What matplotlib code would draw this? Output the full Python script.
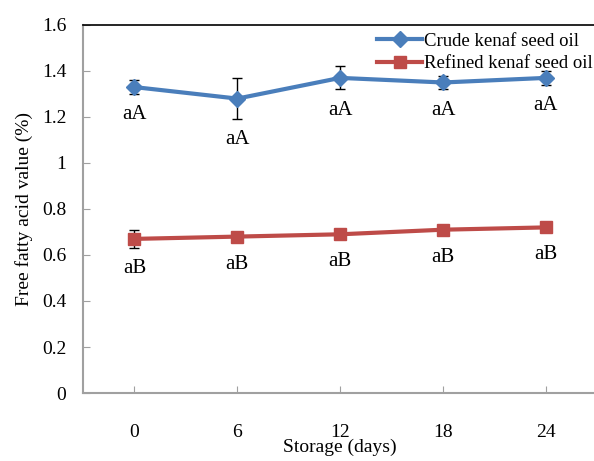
import matplotlib
matplotlib.use("Agg")
import matplotlib.pyplot as plt

days = ["0", "6", "12", "18", "24"]
crude = [1.33, 1.28, 1.37, 1.35, 1.37]
crude_err = [0.03, 0.09, 0.05, 0.03, 0.03]
refined = [0.67, 0.68, 0.69, 0.71, 0.72]
refined_err = [0.04, 0.01, 0.01, 0.01, 0.01]
crude_letters = ["aA", "aA", "aA", "aA", "aA"]
refined_letters = ["aB", "aB", "aB", "aB", "aB"]

plt.rcParams['font.family'] = ['Liberation Serif', 'DejaVu Serif']

fig = plt.figure(figsize=(5.94, 4.61), dpi=100)
ax = fig.add_axes([0.1397, 0.1475, 0.866, 0.7983])

x = list(range(len(days)))
blue = '#4A7EBB'
red = '#BE4B48'

# error bars first, then the lines with markers on top
ax.errorbar(x, crude, yerr=crude_err, fmt='none', ecolor='black',
            elinewidth=1, capsize=3.5, capthick=1, zorder=2)
ax.errorbar(x, refined, yerr=refined_err, fmt='none', ecolor='black',
            elinewidth=1, capsize=3.5, capthick=1, zorder=2)
ax.plot(x, crude, color=blue, lw=3, marker='D', ms=8,
        label='Crude kenaf seed oil', zorder=3)
ax.plot(x, refined, color=red, lw=3, marker='s', ms=9,
        label='Refined kenaf seed oil', zorder=3)

# significance letters under each point
for xi, v, e, t in zip(x, crude, crude_err, crude_letters):
    ax.text(xi, v - max(e, 0.03) - 0.09, t, ha='center', va='center', fontsize=15)
for xi, v, e, t in zip(x, refined, refined_err, refined_letters):
    ax.text(xi, v - max(e, 0.03) - 0.09, t, ha='center', va='center', fontsize=15)

ax.set_xlim(-0.5, 4.5)
ax.set_ylim(0, 1.6)
ax.set_xticks(x)
ax.set_xticklabels(days)
ax.set_yticks([0, 0.2, 0.4, 0.6, 0.8, 1.0, 1.2, 1.4, 1.6])
ax.set_yticklabels(['0', '0.2', '0.4', '0.6', '0.8', '1', '1.2', '1.4', '1.6'])
ax.tick_params(axis='x', direction='in', length=5, color='#A0A0A0', pad=22, labelsize=14)
ax.tick_params(axis='y', direction='in', length=5, color='#A0A0A0', pad=12, labelsize=14)

ax.spines['right'].set_visible(False)
ax.spines['top'].set_color('black')
ax.spines['top'].set_linewidth(1.2)
for s in ['left', 'bottom']:
    ax.spines[s].set_color('#A0A0A0')
    ax.spines[s].set_linewidth(1.5)

ax.set_ylabel('Free fatty acid value (%)', fontsize=14, labelpad=6)
ax.set_xlabel('Storage (days)', fontsize=14, labelpad=-1)

leg = ax.legend(loc='upper left', bbox_to_anchor=(368 / 594, 1 - 23 / 461),
                bbox_transform=fig.transFigure, frameon=False, fontsize=13.5,
                borderpad=0, handlelength=2.4, handletextpad=0.1, labelspacing=0.3)

fig.savefig('out.png', dpi=100)
